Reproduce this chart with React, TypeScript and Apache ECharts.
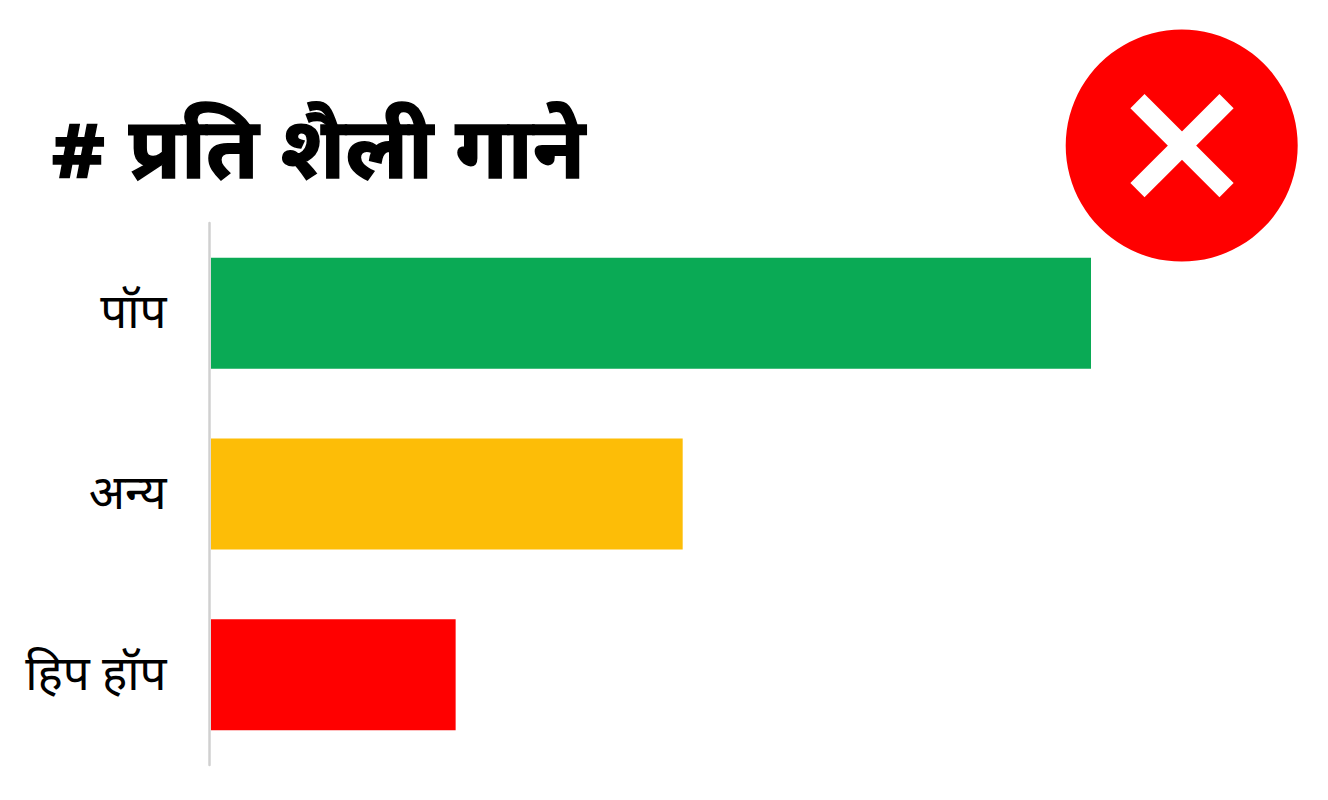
import React, { useEffect, useRef } from "react";
import * as echarts from "echarts";

const titleText = "# प्रति शैली गाने";
const categories = ["पॉप", "अन्य", "हिप हॉप"];
const values = [100, 53.6, 27.8];
const barColors = ["#0aaa55", "#fdbd07", "#ff0000"];
const fontFamily = "'Noto Sans Devanagari', 'Noto Sans', 'Lohit Devanagari', 'Liberation Sans', sans-serif";

export default function App() {
  const ref = useRef<HTMLDivElement>(null);
  useEffect(() => {
    document.body.style.margin = "0";
    document.body.style.background = "#fff";
    const chart = echarts.init(ref.current!, undefined, { renderer: "svg" });
    chart.setOption({
      animation: false,
      backgroundColor: "#ffffff",
      title: {
        text: titleText,
        left: 50,
        top: 115,
        padding: 0,
        textStyle: { fontSize: 85, fontWeight: "bold", color: "#000", fontFamily, textBorderColor: "#000", textBorderWidth: 1.5 },
      },
      grid: { left: 211, top: 223, width: 880, height: 542, containLabel: false },
      xAxis: { type: "value", min: 0, max: 100, show: false },
      yAxis: {
        type: "category",
        inverse: true,
        offset: 1.5,
        data: categories,
        axisLine: { show: true, onZero: false, lineStyle: { color: "#d0d0d0", width: 2.5 } },
        axisTick: { show: false },
        axisLabel: {
          margin: 43,
          formatter: (v: string) => `{a|${v}}`,
          rich: { a: { fontSize: 47.5, color: "#000", fontFamily, padding: [6, 0, 0, 0] } },
        },
      },
      series: [
        {
          type: "bar",
          barWidth: 111,
          data: values.map((v, i) => ({ value: v, itemStyle: { color: barColors[i] } })),
        },
      ],
      graphic: [
        { type: "circle", shape: { cx: 1181.7, cy: 145.6, r: 116 }, style: { fill: "#ff0000" } },
        { type: "rect", x: 1182, y: 145.6, rotation: Math.PI / 4, shape: { x: -63, y: -10, width: 126, height: 20 }, style: { fill: "#fff" } },
        { type: "rect", x: 1182, y: 145.6, rotation: -Math.PI / 4, shape: { x: -63, y: -10, width: 126, height: 20 }, style: { fill: "#fff" } },
      ],
    });
    return () => chart.dispose();
  }, []);
  return <div ref={ref} style={{ position: "absolute", left: 0, top: 0, width: 1328, height: 800 }} />;
}
